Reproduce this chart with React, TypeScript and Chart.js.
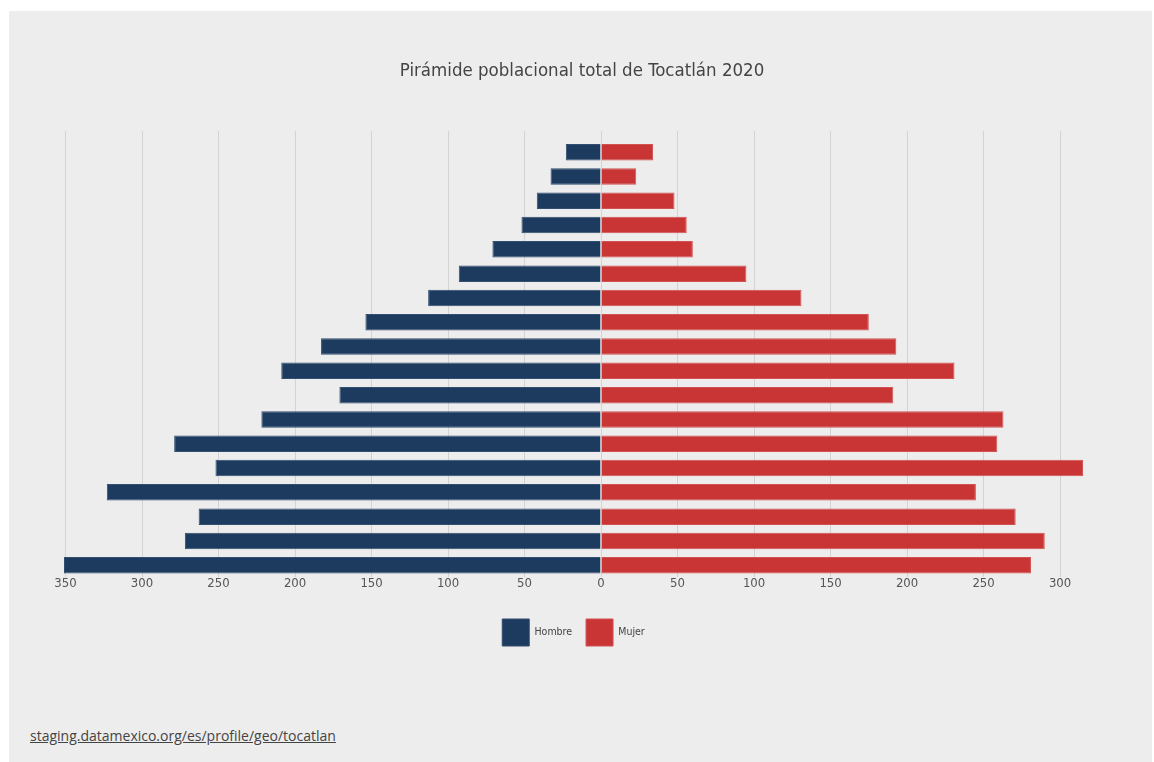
import React, { useEffect, useRef } from "react";
import { Chart, registerables } from "chart.js";

Chart.register(...registerables);

// Age groups, oldest at the top
const ageGroups = [
  "85+", "80-84", "75-79", "70-74", "65-69", "60-64", "55-59", "50-54", "45-49",
  "40-44", "35-39", "30-34", "25-29", "20-24", "15-19", "10-14", "5-9", "0-4",
];
const hombre = [23, 33, 42, 52, 71, 93, 113, 154, 183, 209, 171, 222, 279, 252, 323, 263, 272, 351];
const mujer = [34, 23, 48, 56, 60, 95, 131, 175, 193, 231, 191, 263, 259, 315, 245, 271, 290, 281];
const seriesNames = ["Hombre", "Mujer"];
const titleText = "Pirámide poblacional total de Tocatlán 2020";
const sourceText = "staging.datamexico.org/es/profile/geo/tocatlan";

const FONT = "'Liberation Sans Narrow', 'DejaVu Sans Condensed', Roboto, sans-serif";

export default function App() {
  const ref = useRef<HTMLCanvasElement | null>(null);

  useEffect(() => {
    if (!ref.current) return;
    const xMin = -Math.max(...hombre);
    const xMax = Math.max(...mujer);
    const chart = new Chart(ref.current, {
      type: "bar",
      data: {
        labels: ageGroups,
        datasets: [
          {
            label: seriesNames[0],
            data: hombre.map((v) => -v),
            backgroundColor: "#1c3b5e",
            borderColor: "#324e70",
            borderWidth: 1,
            barPercentage: 0.68,
            categoryPercentage: 1,
          },
          {
            label: seriesNames[1],
            data: mujer,
            backgroundColor: "#c93434",
            borderColor: "#d25252",
            borderWidth: 1,
            barPercentage: 0.68,
            categoryPercentage: 1,
          },
        ],
      },
      options: {
        indexAxis: "y",
        animation: false,
        responsive: false,
        devicePixelRatio: 1,
        layout: { padding: { left: 55, right: 69, top: 120, bottom: 55 } },
        scales: {
          x: {
            type: "linear",
            position: "bottom",
            stacked: true,
            min: xMin,
            max: xMax,
            border: { display: false },
            grid: { color: "#d3d3d3", lineWidth: 1, drawTicks: false },
            ticks: {
              stepSize: 50,
              includeBounds: false,
              padding: -2,
              color: "#555",
              font: { family: FONT, size: 13 },
              callback: (v: any) => String(Math.abs(Number(v))),
            },
            afterFit: (scale: any) => {
              scale.height += 16;
            },
          },
          x2: {
            type: "linear",
            position: "top",
            min: xMin,
            max: xMax,
            border: { display: false },
            grid: { color: "#d3d3d3", lineWidth: 1, drawOnChartArea: false, drawTicks: true, tickLength: 9 },
            ticks: { stepSize: 50, includeBounds: false, display: false },
          },
          y: {
            type: "category",
            stacked: true,
            display: false,
          },
        },
        plugins: {
          title: { display: false },
          legend: {
            position: "bottom",
            labels: {
              boxWidth: 27,
              boxHeight: 27,
              padding: 14,
              color: "#444",
              font: { family: FONT, size: 10.5 },
            },
          },
          tooltip: { enabled: false },
        },
      },
    });
    return () => chart.destroy();
  }, []);

  return (
    <div
      style={{
        position: "absolute",
        left: 9,
        top: 11,
        width: 1143,
        height: 751,
        background: "#ededed",
      }}
    >
      <div
        style={{
          position: "absolute",
          left: 573,
          top: 47,
          transform: "translateX(-50%)",
          whiteSpace: "nowrap",
          fontFamily: FONT,
          fontSize: 18.5,
          lineHeight: "24px",
          color: "#444",
        }}
      >
        {titleText}
      </div>
      <canvas ref={ref} width={1143} height={700} style={{ display: "block" }} />
      <div
        style={{
          position: "absolute",
          left: 21,
          top: 715,
          fontFamily: "'Open Sans', Roboto, sans-serif",
          fontSize: 14,
          color: "#444",
          textDecoration: "underline",
        }}
      >
        {sourceText}
      </div>
    </div>
  );
}
